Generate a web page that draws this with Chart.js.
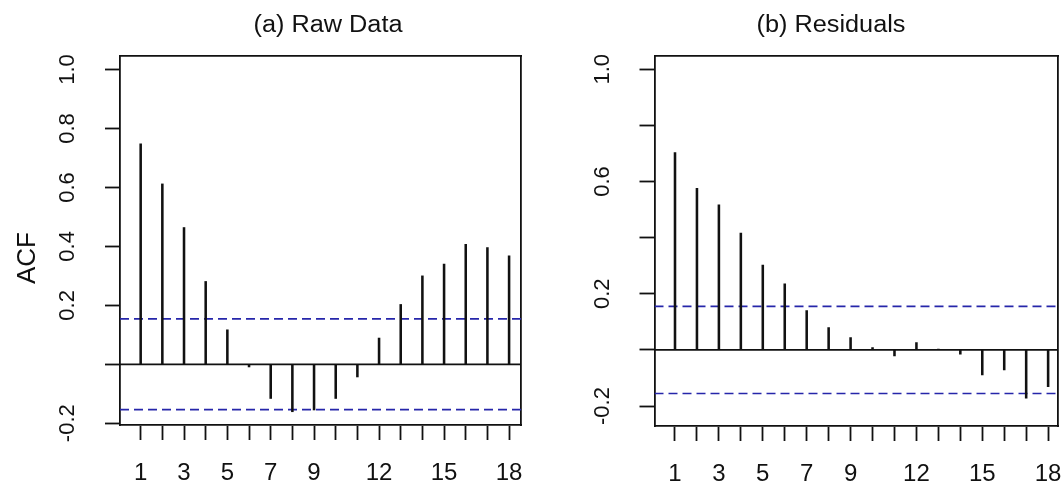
<!DOCTYPE html>
<html><head><meta charset="utf-8">
<script src="https://cdn.jsdelivr.net/npm/chart.js@4/dist/chart.umd.min.js"></script>
<style>
html,body{margin:0;padding:0;background:#fff;}
#wrap{position:relative;width:1061px;height:488px;overflow:hidden;background:#fff;font-family:"Liberation Sans",Arial,sans-serif;color:#111;}
.cv{position:absolute;top:0;}
.ttl{position:absolute;top:10px;font-size:23px;line-height:28px;white-space:nowrap;transform:translateX(-50%) scaleX(1.1);}
.ylab{position:absolute;font-size:26px;line-height:30px;white-space:nowrap;transform:translate(-50%,-50%) rotate(-90deg);}
</style></head>
<body>
<div id="wrap">
  <div class="cv" style="left:0;width:530px;height:488px;"><canvas id="c1" width="530" height="488"></canvas></div>
  <div class="cv" style="left:530px;width:531px;height:488px;"><canvas id="c2" width="531" height="488"></canvas></div>
  <div class="ttl" style="left:328px;">(a) Raw Data</div>
  <div class="ttl" style="left:831px;">(b) Residuals</div>
  <div class="ylab" style="left:26px;top:258px;">ACF</div>
</div>
<script>
// ---- data ----
const lags = [1,2,3,4,5,6,7,8,9,10,11,12,13,14,15,16,17,18];
const rawAcf = [0.748,0.612,0.464,0.281,0.117,-0.009,-0.116,-0.161,-0.155,-0.116,-0.043,0.089,0.203,0.300,0.340,0.407,0.396,0.368];
const resAcf = [0.703,0.576,0.517,0.416,0.302,0.235,0.140,0.080,0.044,0.008,-0.021,0.026,0.003,-0.015,-0.089,-0.071,-0.172,-0.131];
const rawClim = 0.154;
const resClim = 0.155;
const xTickLabels = ['1','','3','','5','','7','','9','','','12','','','15','','','18'];
const yTickValues = [-0.2,0,0.2,0.4,0.6,0.8,1.0];
const rawYLabels = ['-0.2','','0.2','0.4','0.6','0.8','1.0'];
const resYLabels = ['-0.2','','0.2','','0.6','','1.0'];

const FONT = '"Liberation Sans", Arial, sans-serif';
const INK = '#111';
const TXT = '#111';
const BLUE = '#2626aa';

function makePanel(id, values, clim, yLabels, cfg) {
  const a = cfg.area;
  const spikes = lags.map((l,i)=>({x:l, y:values[i]}));
  const lineAt = v => [{x:cfg.xMin,y:v},{x:cfg.xMax,y:v}];
  new Chart(document.getElementById(id), {
    type: 'bar',
    data: {
      datasets: [
        {type:'line', data: lineAt(clim), borderColor: BLUE, borderWidth: 1.6, borderDash:[9,5], pointRadius:0, order:3},
        {type:'line', data: lineAt(-clim), borderColor: BLUE, borderWidth: 1.6, borderDash:[9,5], pointRadius:0, order:3},
        {type:'line', data: lineAt(0), borderColor: INK, borderWidth: 1.8, pointRadius:0, order:2},
        {type:'bar', data: spikes, backgroundColor: INK, borderWidth:0, barThickness:1.9, order:1}
      ]
    },
    options: {
      responsive:false, animation:false, devicePixelRatio:1,
      layout:{padding:{left:0, top:a.top, right:cfg.width - a.right, bottom:0}},
      plugins:{legend:{display:false}, tooltip:{enabled:false}, title:{display:false}},
      scales:{
        x:{type:'linear', position:'bottom', min:cfg.xMin, max:cfg.xMax, offset:false,
          afterBuildTicks: s => { s.ticks = lags.map(v=>({value:v})); },
          afterFit: s => { s.height = cfg.height - a.bottom; s.paddingLeft = 0; s.paddingRight = 0; },
          grid:{display:true, offset:false, drawOnChartArea:false, drawTicks:true, tickLength:15, tickColor:INK, tickWidth:1.8, color:INK},
          border:{display:true, color:INK, width:1.8},
          ticks:{autoSkip:false, minRotation:0, maxRotation:0, padding:19, color:TXT, font:{family:FONT, size:24},
            callback:(v,i)=>xTickLabels[i]}
        },
        y:{type:'linear', position:'left', min:cfg.yMin, max:cfg.yMax,
          afterBuildTicks: s => { s.ticks = yTickValues.map(v=>({value:v})); },
          afterFit: s => { s.width = a.left; s.paddingTop = 0; s.paddingBottom = 0; },
          grid:{display:true, drawOnChartArea:false, drawTicks:true, tickLength:15, tickColor:INK, tickWidth:1.8, color:INK},
          border:{display:true, color:INK, width:1.8},
          ticks:{autoSkip:false, minRotation:90, maxRotation:90, crossAlign:'center', padding:cfg.yPad, color:TXT, font:{family:FONT, size:22},
            callback:(v,i)=>yLabels[i]}
        },
        x2:{type:'linear', position:'top', axis:'x', display:true,
          afterFit: s => { s.height = 0; s.paddingLeft = 0; s.paddingRight = 0; },
          grid:{display:false, drawTicks:false}, ticks:{display:false},
          border:{display:true, color:INK, width:1.8}},
        y2:{type:'linear', position:'right', axis:'y', display:true,
          afterFit: s => { s.width = 0; s.paddingTop = 0; s.paddingBottom = 0; },
          grid:{display:false, drawTicks:false}, ticks:{display:false},
          border:{display:true, color:INK, width:1.8}}
      }
    }
  });
}

makePanel('c1', rawAcf, rawClim, rawYLabels, {
  width:530, height:488, area:{left:120, top:56, right:521, bottom:425},
  xMin:0.046, xMax:18.55, yMin:-0.206, yMax:1.046, yPad:17.7
});
makePanel('c2', resAcf, resClim, resYLabels, {
  width:531, height:488, area:{left:124.5, top:56, right:528, bottom:426},
  xMin:0.066, xMax:18.45, yMin:-0.271, yMax:1.047, yPad:17.5
});
</script>
</body></html>
